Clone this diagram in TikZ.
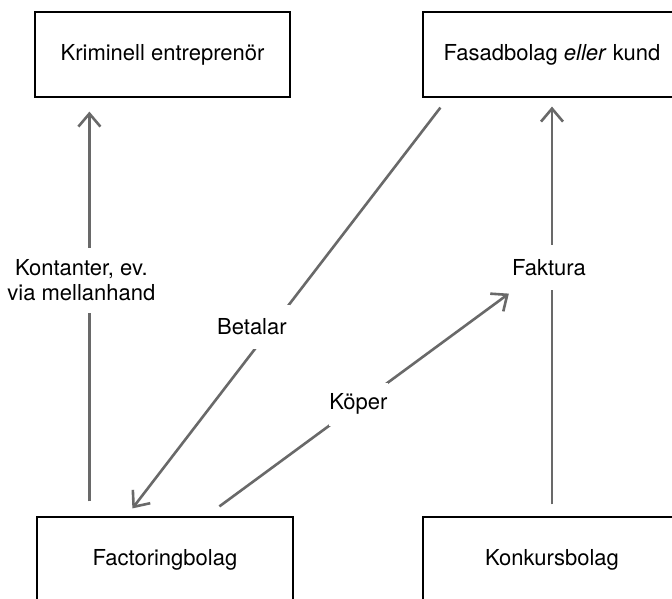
\documentclass[tikz,border=0pt]{standalone}
\usepackage{fontspec}
\setmainfont{TeX Gyre Heros}
\usetikzlibrary{arrows.meta}
\definecolor{linkgray}{RGB}{105,105,105}
\begin{document}
\begin{tikzpicture}[x=1pt,y=-1pt,
  txt/.style={font=\fontsize{22}{25}\selectfont},
  box/.style={txt, draw=black, line width=1.2pt, minimum height=85pt, inner sep=0pt},
  conn/.style={draw=linkgray, line width=2.6pt, -{Straight Barb[length=13pt,width=22pt]}},
  lbl/.style={txt, fill=white, text=black, align=center, inner xsep=2pt}]
\clip (0,0) rectangle (672,598);
\fill[white] (0,0) rectangle (672,598);

% the four parties
\node[box, minimum width=255pt] (krim)  at (162.5,54.5) {Kriminell entreprenör};
\node[box, minimum width=258pt] (fasad) at (552,54.5)   {Fasadbolag \textit{eller} kund};
\node[box, minimum width=256pt] (fact)  at (165,559.5)  {Factoringbolag};
\node[box, minimum width=258pt] (konk)  at (552,559.5)  {Konkursbolag};

% cash flow to the entrepreneur
\draw[conn, shorten <=15pt, shorten >=14pt]
  ([xshift=53pt]fact.north west) --
  node[lbl, pos=0.563, xshift=-8pt, inner ysep=12pt] {Kontanter, ev.\\via mellanhand}
  ([xshift=55pt]krim.south west);

% invoice from the bankrupt company
\draw[conn, shorten <=12pt, shorten >=9pt]
  (konk.north) --
  node[lbl, pos=0.594, xshift=-3pt, inner ysep=14.5pt] (fakt) {Faktura}
  (fasad.south);

% payment to the factoring company
\draw[conn]
  ([xshift=18pt,yshift=-10pt]fasad.south west) --
  node[lbl, pos=0.547, xshift=-20pt, inner xsep=3pt, inner ysep=14pt] {Betalar}
  ([xshift=96pt,yshift=8pt]fact.north west);

% the factoring company buys the invoice
\draw[conn]
  ([xshift=183pt,yshift=10pt]fact.north west) --
  node[lbl, pos=0.48, inner xsep=0.5pt, inner ysep=11pt] {Köper}
  ([yshift=-2pt]fakt.south west);
\end{tikzpicture}
\end{document}
